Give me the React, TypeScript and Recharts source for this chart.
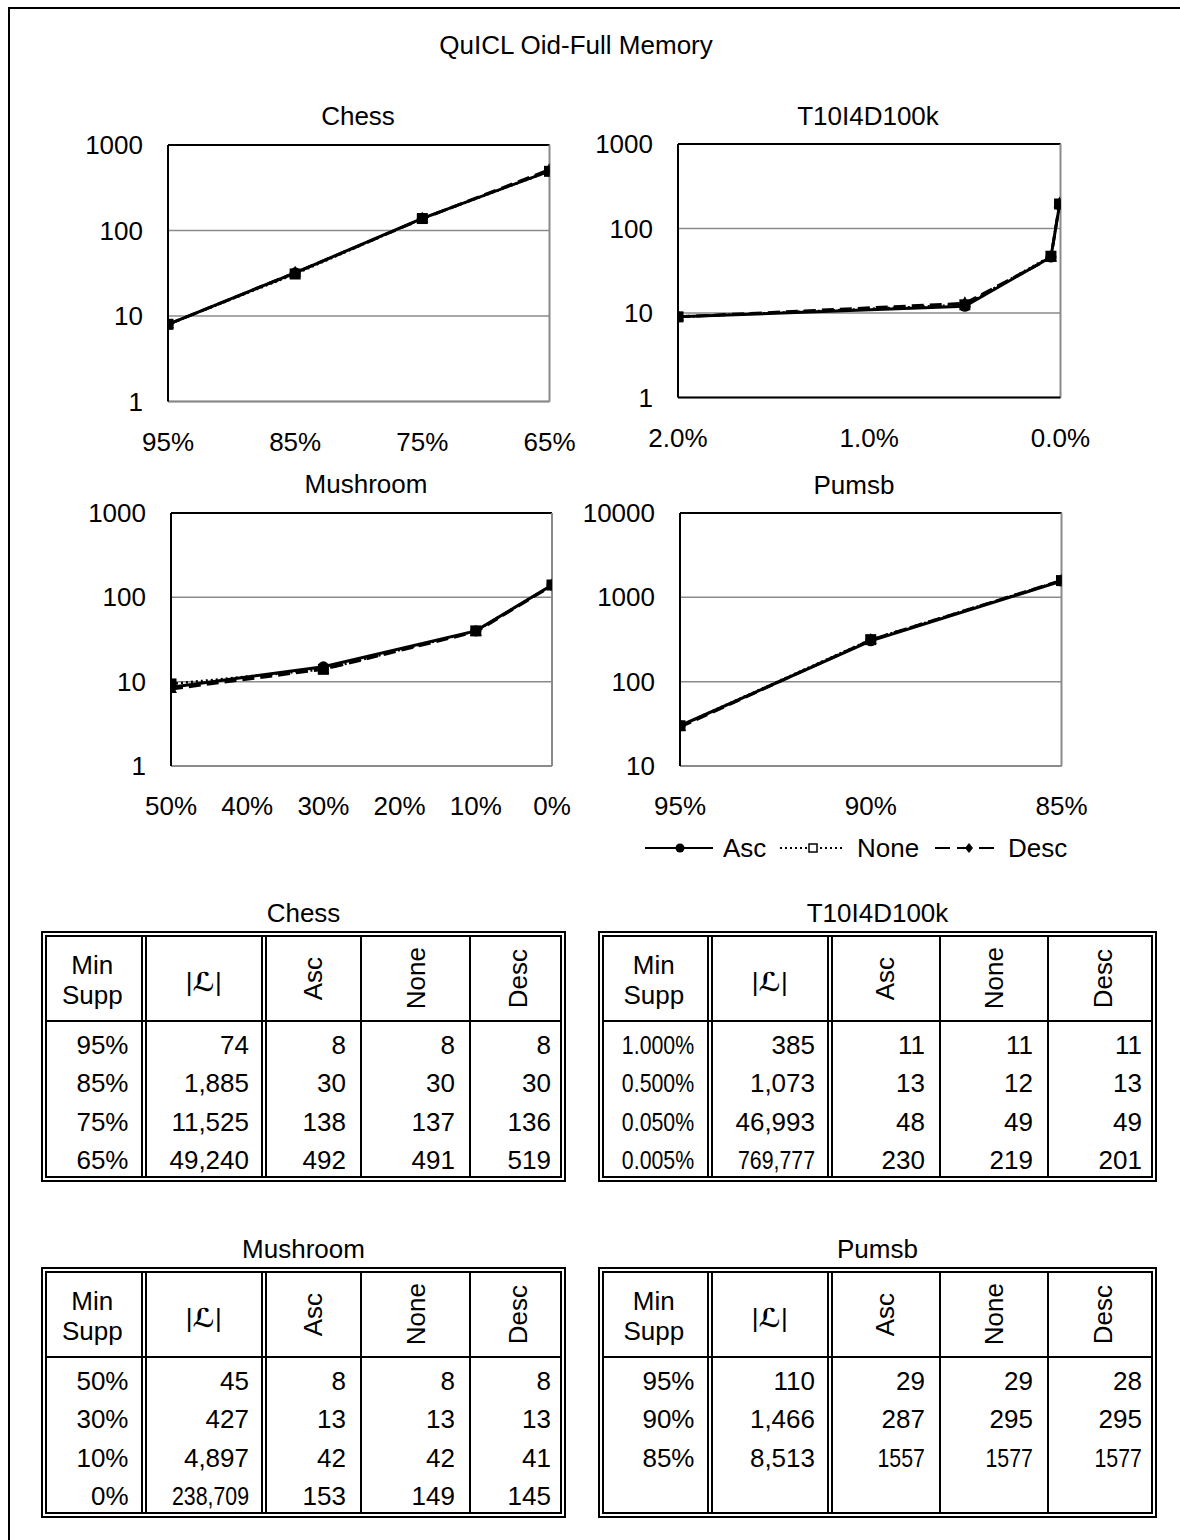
import React from 'react';
import { LineChart, Line, XAxis, YAxis, CartesianGrid, ReferenceLine, Legend } from 'recharts';

const FONT = '"Liberation Sans", Arial, Helvetica, sans-serif';

// ---------- chart data ----------
const chessSupport = [95, 85, 75, 65];
const chessAsc = [8, 32, 139, 495];
const chessNone = [8, 31, 138, 492];
const chessDesc = [8, 32, 137, 515];

const t10Support = [2.0, 0.5, 0.05, 0.005];
const t10Asc = [9, 12, 46, 190];
const t10None = [9, 12.5, 47, 195];
const t10Desc = [9, 13, 45, 198];

const mushSupport = [50, 30, 10, 0];
const mushAsc = [8.6, 15, 40, 140];
const mushNone = [9.4, 14, 40, 140];
const mushDesc = [8.2, 14, 39, 138];

const pumsbSupport = [95, 90, 85];
const pumsbAsc = [30, 305, 1560];
const pumsbNone = [30, 315, 1580];
const pumsbDesc = [29, 312, 1585];

// ---------- tick labels ----------
const chessXTicks = [95, 85, 75, 65];
const t10XTicks = [2, 1, 0];
const mushXTicks = [50, 40, 30, 20, 10, 0];
const pumsbXTicks = [95, 90, 85];
const yTicksSmall = [1, 10, 100, 1000];
const yTicksPumsb = [10, 100, 1000, 10000];

// ---------- table data ----------
const chessTableSupp = ['95%', '85%', '75%', '65%'];
const chessTableSize = ['74', '1,885', '11,525', '49,240'];
const chessTableAsc = ['8', '30', '138', '492'];
const chessTableNone = ['8', '30', '137', '491'];
const chessTableDesc = ['8', '30', '136', '519'];

const t10TableSupp = ['1.000%', '0.500%', '0.050%', '0.005%'];
const t10TableSize = ['385', '1,073', '46,993', '769,777'];
const t10TableAsc = ['11', '13', '48', '230'];
const t10TableNone = ['11', '12', '49', '219'];
const t10TableDesc = ['11', '13', '49', '201'];

const mushTableSupp = ['50%', '30%', '10%', '0%'];
const mushTableSize = ['45', '427', '4,897', '238,709'];
const mushTableAsc = ['8', '13', '42', '153'];
const mushTableNone = ['8', '13', '42', '149'];
const mushTableDesc = ['8', '13', '41', '145'];

const pumsbTableSupp = ['95%', '90%', '85%'];
const pumsbTableSize = ['110', '1,466', '8,513'];
const pumsbTableAsc = ['29', '287', '1557'];
const pumsbTableNone = ['29', '295', '1577'];
const pumsbTableDesc = ['28', '295', '1577'];

const seriesNames = ['Asc', 'None', 'Desc'];
const tableHeaders = ['Asc', 'None', 'Desc'];

// narrow-font cells (col-row)
const chessNarrow: string[] = [];
const t10Narrow = ['0-0', '0-1', '0-2', '0-3', '1-3'];
const mushNarrow = ['1-3'];
const pumsbNarrow = ['2-2', '3-2', '4-2'];

const buildRows = (xs: number[], a: number[], n: number[], d: number[]) =>
  xs.map((x, i) => ({ x, asc: a[i], none: n[i], desc: d[i] }));

const makeDot = (kind: string) => (props: any) => {
  const { cx, cy, index } = props;
  const k = `${kind}-${index}`;
  if (cx == null || cy == null) return <g key={k} />;
  if (kind === 'asc') return <circle key={k} cx={cx} cy={cy} r={5.5} fill="#000" />;
  if (kind === 'none') return <rect key={k} x={cx - 5.5} y={cy - 5.5} width={11} height={11} fill="#000" />;
  return <path key={k} d={`M${cx},${cy - 7} L${cx + 6},${cy + 4} L${cx - 6},${cy + 4} Z`} fill="#000" />;
};

type Plot = { l: number; r: number; t: number; b: number };

function LegendGraphic() {
  return (
    <svg width={440} height={40} style={{ display: 'block' }}>
      <g fontFamily={FONT} fontSize={26} fill="#000">
        <line x1={5} x2={73} y1={20} y2={20} stroke="#000" strokeWidth={2} />
        <circle cx={40} cy={20} r={4.5} fill="#000" />
        <text x={83} y={20} dy="0.35em">{seriesNames[0]}</text>
        <line x1={140} x2={205} y1={20} y2={20} stroke="#000" strokeWidth={2} strokeDasharray="2 3" />
        <rect x={169} y={16} width={8} height={8} fill="#fff" stroke="#000" strokeWidth={1.5} />
        <text x={217} y={20} dy="0.35em">{seriesNames[1]}</text>
        <line x1={295} x2={360} y1={20} y2={20} stroke="#000" strokeWidth={2} strokeDasharray="15 7" />
        <path d="M329,15 L333,20 L329,25 L325,20 Z" fill="#000" />
        <text x={368} y={20} dy="0.35em">{seriesNames[2]}</text>
      </g>
    </svg>
  );
}

function SmallChart(props: {
  data: any[];
  plot: Plot;
  xDomain: [number, number];
  xTicks: number[];
  xFmt: (v: number) => string;
  yDomain: [number, number];
  yTicks: number[];
  bottomColor: string;
  legend?: boolean;
}) {
  const { data, plot, xDomain, xTicks, xFmt, yDomain, yTicks, bottomColor, legend } = props;
  const yAxisW = 110;
  const mTop = 30;
  const mRight = 40;
  const xAxisH = 70;
  const mBottom = legend ? 40 : 0;
  const width = plot.r - plot.l + yAxisW + mRight;
  const height = plot.b - plot.t + mTop + xAxisH + mBottom;
  const cLeft = plot.l - yAxisW;
  const cTop = plot.t - mTop;
  return (
    <div style={{ position: 'absolute', left: cLeft, top: cTop }}>
      <LineChart width={width} height={height} data={data} margin={{ top: mTop, right: mRight, left: 0, bottom: mBottom }}>
        <CartesianGrid vertical={false} stroke="#8a8a8a" strokeWidth={1.5} />
        <XAxis
          type="number"
          dataKey="x"
          domain={xDomain}
          reversed
          ticks={xTicks}
          interval={0}
          allowDataOverflow
          height={xAxisH}
          tickSize={0}
          tickMargin={40}
          tickLine={false}
          axisLine={{ stroke: bottomColor, strokeWidth: 2 }}
          tick={(p: any) => (
            <text x={p.x} y={p.y} dy="0.35em" textAnchor="middle" fontSize={26} fontFamily={FONT} fill="#000">
              {xFmt(p.payload.value)}
            </text>
          )}
        />
        <YAxis
          type="number"
          scale="log"
          domain={yDomain}
          ticks={yTicks}
          interval={0}
          allowDataOverflow
          width={yAxisW}
          tickSize={0}
          tickMargin={25}
          tickLine={false}
          axisLine={{ stroke: '#000', strokeWidth: 2 }}
          tick={(p: any) => (
            <text x={p.x} y={p.y} dy="0.35em" textAnchor="end" fontSize={26} fontFamily={FONT} fill="#000">
              {p.payload.value}
            </text>
          )}
        />
        <ReferenceLine y={yDomain[1]} stroke="#000" strokeWidth={2} />
        <ReferenceLine x={xDomain[0]} stroke="#8a8a8a" strokeWidth={2} />
        <Line dataKey="asc" stroke="#000" strokeWidth={3} dot={makeDot('asc')} isAnimationActive={false} />
        <Line dataKey="desc" stroke="#000" strokeWidth={3} strokeDasharray="12 6" dot={makeDot('desc')} isAnimationActive={false} />
        <Line dataKey="none" stroke="#000" strokeWidth={2.5} strokeDasharray="2 3" dot={makeDot('none')} isAnimationActive={false} />
        {legend && (
          <Legend
            layout="horizontal"
            verticalAlign="middle"
            align="center"
            wrapperStyle={{ left: 640 - cLeft, top: 828 - cTop, width: 440, height: 40 }}
            content={() => <LegendGraphic />}
          />
        )}
      </LineChart>
    </div>
  );
}

function Label({ x, y, text, size = 26 }: { x: number; y: number; text: string; size?: number }) {
  return (
    <div
      style={{
        position: 'absolute',
        left: x - 300,
        width: 600,
        top: y - 15,
        height: 30,
        lineHeight: '30px',
        textAlign: 'center',
        fontSize: size,
        whiteSpace: 'nowrap',
      }}
    >
      {text}
    </div>
  );
}

const TBL_H = 251;
const HEAD_H = 90;
const ROW0 = 114;
const ROW_STEP = 38.3;

function DataTable(props: {
  title: string;
  left: number;
  right: number;
  top: number;
  bounds: number[];
  cols: string[][];
  narrow: string[];
}) {
  const { title, left, right, top, bounds, cols, narrow } = props;
  const w = right - left;
  const h = TBL_H;
  const edges = [left, ...bounds, right];
  const vline = (x: number, k: string) => (
    <div key={k} style={{ position: 'absolute', left: x, top: 4, width: 2, height: h - 8, background: '#000' }} />
  );
  const parts: any[] = [];
  parts.push(
    <div key="outer" style={{ position: 'absolute', left: 0, top: 0, width: w, height: h, border: '2px solid #000', boxSizing: 'border-box' }} />
  );
  parts.push(
    <div key="inner" style={{ position: 'absolute', left: 4, top: 4, width: w - 8, height: h - 8, border: '2px solid #000', boxSizing: 'border-box' }} />
  );
  parts.push(<div key="hb" style={{ position: 'absolute', left: 4, top: HEAD_H - 1, width: w - 8, height: 2, background: '#000' }} />);
  bounds.forEach((b, i) => {
    const rx = b - left;
    if (i < 2) {
      parts.push(vline(rx - 3, `d${i}a`));
      parts.push(vline(rx + 1, `d${i}b`));
    } else {
      parts.push(vline(rx - 1, `s${i}`));
    }
  });
  // header
  const c0 = (edges[0] + edges[1]) / 2 - left;
  const c1 = (edges[1] + edges[2]) / 2 - left;
  parts.push(
    <div key="h-min" style={{ position: 'absolute', left: c0 - 60, width: 120, top: 33.5 - 15, lineHeight: '30px', textAlign: 'center' }}>Min</div>
  );
  parts.push(
    <div key="h-supp" style={{ position: 'absolute', left: c0 - 60, width: 120, top: 63.5 - 15, lineHeight: '30px', textAlign: 'center' }}>Supp</div>
  );
  parts.push(
    <div key="h-l" style={{ position: 'absolute', left: c1 - 60, width: 120, top: 51 - 15, lineHeight: '30px', textAlign: 'center' }}>
      |<span style={{ fontWeight: 'bold', fontStyle: 'italic', fontFamily: '"DejaVu Serif", "DejaVu Sans", serif' }}>ℒ</span>|
    </div>
  );
  tableHeaders.forEach((hd, i) => {
    const cx = (edges[i + 2] + edges[i + 3]) / 2 - left;
    parts.push(
      <div
        key={`h-${hd}`}
        style={{
          position: 'absolute',
          left: cx - 15,
          width: 30,
          top: 47.5 - 40,
          height: 80,
          display: 'flex',
          alignItems: 'center',
          justifyContent: 'center',
        }}
      >
        <span style={{ writingMode: 'vertical-rl', transform: 'rotate(180deg)', lineHeight: '30px', whiteSpace: 'nowrap' }}>{hd}</span>
      </div>
    );
  });
  // body
  cols.forEach((col, ci) => {
    const xr = edges[ci + 1] - left - 15;
    col.forEach((v, ri) => {
      const yc = ROW0 + ri * ROW_STEP;
      const isNarrow = narrow.indexOf(`${ci}-${ri}`) >= 0;
      parts.push(
        <div
          key={`c${ci}-${ri}`}
          style={{ position: 'absolute', right: w - xr, top: yc - 15, height: 30, lineHeight: '30px', whiteSpace: 'nowrap', textAlign: 'right' }}
        >
          {isNarrow ? (
            <span style={{ display: 'inline-block', transform: 'scaleX(0.82)', transformOrigin: 'right center' }}>{v}</span>
          ) : (
            v
          )}
        </div>
      );
    });
  });
  return (
    <>
      <Label x={(left + right) / 2} y={top - 18} text={title} />
      <div style={{ position: 'absolute', left, top, width: w, height: h, fontSize: 26 }}>{parts}</div>
    </>
  );
}

const pctInt = (v: number) => `${v}%`;
const pctOne = (v: number) => `${v.toFixed(1)}%`;

export default function App() {
  const chessData = buildRows(chessSupport, chessAsc, chessNone, chessDesc);
  const t10Data = buildRows(t10Support, t10Asc, t10None, t10Desc);
  const mushData = buildRows(mushSupport, mushAsc, mushNone, mushDesc);
  const pumsbData = buildRows(pumsbSupport, pumsbAsc, pumsbNone, pumsbDesc);
  const leftBounds = [143.5, 264, 361, 470];
  const rightBounds = [709.5, 830, 940, 1048];
  return (
    <div
      style={{
        position: 'absolute',
        left: 0,
        top: 0,
        width: 1180,
        height: 1540,
        background: '#fff',
        fontFamily: FONT,
        color: '#000',
        overflow: 'hidden',
      }}
    >
      <div style={{ position: 'absolute', left: 8, top: 7, right: -4, bottom: -4, borderLeft: '2px solid #000', borderTop: '2px solid #000' }} />
      <Label x={576} y={45} text="QuICL Oid-Full Memory" />

      <Label x={358} y={116} text="Chess" />
      <SmallChart
        data={chessData}
        plot={{ l: 168, r: 549.5, t: 145, b: 401.5 }}
        xDomain={[65, 95]}
        xTicks={chessXTicks}
        xFmt={pctInt}
        yDomain={[1, 1000]}
        yTicks={yTicksSmall}
        bottomColor="#8a8a8a"
      />

      <Label x={868} y={116} text="T10I4D100k" />
      <SmallChart
        data={t10Data}
        plot={{ l: 677.5, r: 1060, t: 144, b: 397.5 }}
        xDomain={[0, 2]}
        xTicks={t10XTicks}
        xFmt={pctOne}
        yDomain={[1, 1000]}
        yTicks={yTicksSmall}
        bottomColor="#000"
      />

      <Label x={366} y={484} text="Mushroom" />
      <SmallChart
        data={mushData}
        plot={{ l: 170.5, r: 551.5, t: 512.5, b: 765.5 }}
        xDomain={[0, 50]}
        xTicks={mushXTicks}
        xFmt={pctInt}
        yDomain={[1, 1000]}
        yTicks={yTicksSmall}
        bottomColor="#8a8a8a"
      />

      <Label x={854} y={485} text="Pumsb" />
      <SmallChart
        data={pumsbData}
        plot={{ l: 679.5, r: 1061, t: 512.5, b: 765.5 }}
        xDomain={[85, 95]}
        xTicks={pumsbXTicks}
        xFmt={pctInt}
        yDomain={[10, 10000]}
        yTicks={yTicksPumsb}
        bottomColor="#8a8a8a"
        legend
      />

      <DataTable
        title="Chess"
        left={41}
        right={566}
        top={931}
        bounds={leftBounds}
        cols={[chessTableSupp, chessTableSize, chessTableAsc, chessTableNone, chessTableDesc]}
        narrow={chessNarrow}
      />
      <DataTable
        title="T10I4D100k"
        left={598}
        right={1157}
        top={931}
        bounds={rightBounds}
        cols={[t10TableSupp, t10TableSize, t10TableAsc, t10TableNone, t10TableDesc]}
        narrow={t10Narrow}
      />
      <DataTable
        title="Mushroom"
        left={41}
        right={566}
        top={1267}
        bounds={leftBounds}
        cols={[mushTableSupp, mushTableSize, mushTableAsc, mushTableNone, mushTableDesc]}
        narrow={mushNarrow}
      />
      <DataTable
        title="Pumsb"
        left={598}
        right={1157}
        top={1267}
        bounds={rightBounds}
        cols={[pumsbTableSupp, pumsbTableSize, pumsbTableAsc, pumsbTableNone, pumsbTableDesc]}
        narrow={pumsbNarrow}
      />
    </div>
  );
}
